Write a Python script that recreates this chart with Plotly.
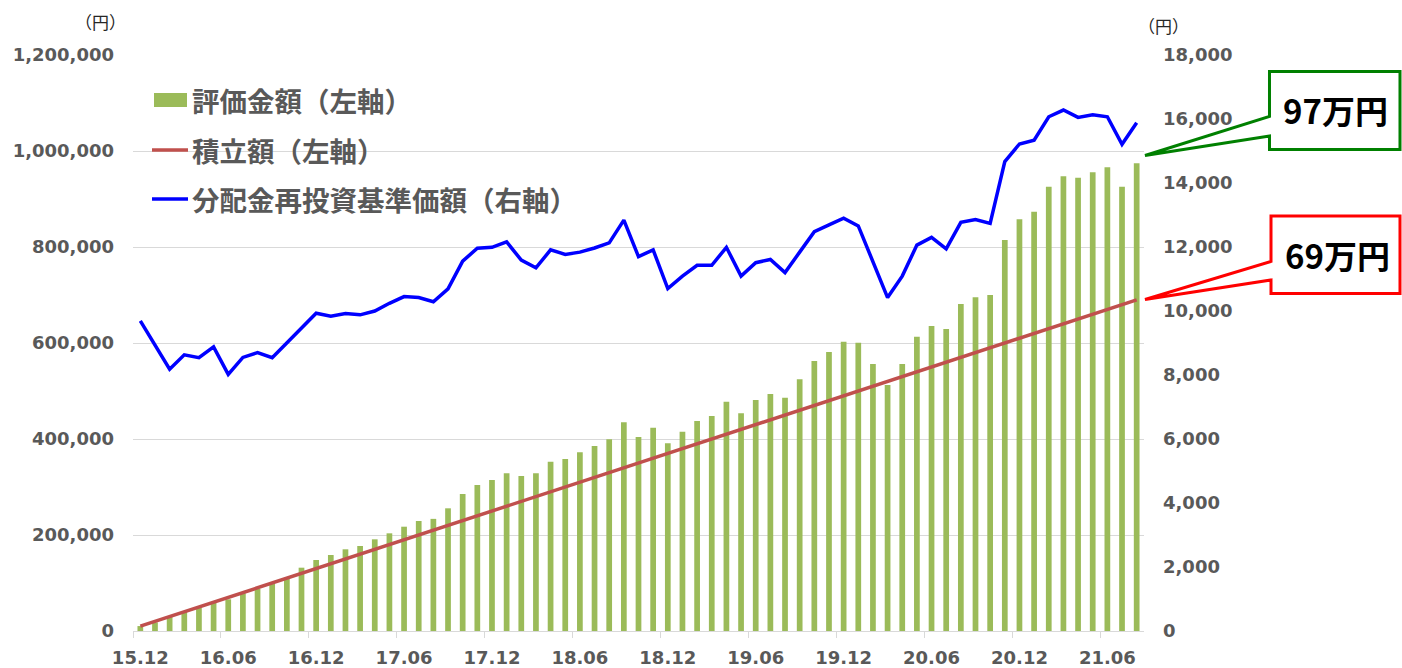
import plotly.graph_objects as go

# ---------------- data ----------------
months = [
    "15.12",
    "16.01", "16.02", "16.03", "16.04", "16.05", "16.06", "16.07", "16.08", "16.09", "16.10", "16.11", "16.12",
    "17.01", "17.02", "17.03", "17.04", "17.05", "17.06", "17.07", "17.08", "17.09", "17.10", "17.11", "17.12",
    "18.01", "18.02", "18.03", "18.04", "18.05", "18.06", "18.07", "18.08", "18.09", "18.10", "18.11", "18.12",
    "19.01", "19.02", "19.03", "19.04", "19.05", "19.06", "19.07", "19.08", "19.09", "19.10", "19.11", "19.12",
    "20.01", "20.02", "20.03", "20.04", "20.05", "20.06", "20.07", "20.08", "20.09", "20.10", "20.11", "20.12",
    "21.01", "21.02", "21.03", "21.04", "21.05", "21.06", "21.07", "21.08",
]

valuation = [  # 評価金額（左軸）
    10300, 18000, 29900, 40300, 48600, 59700, 66000, 78500, 87500, 99400, 111000, 131900, 147900,
    158300, 170200, 177100, 191000, 203500, 217300, 229200, 233600, 255600, 285400, 304200, 314600,
    328500, 322900, 328500, 352800, 358300, 372200, 385400, 399300, 434700, 404200, 423600, 391000,
    415300, 437500, 447900, 477800, 453500, 481300, 493800, 486000, 524400, 562500, 581300, 602700,
    600600, 556300, 512500, 556300, 613100, 635400, 629200, 681300, 695200, 700000, 814600, 857700,
    873600, 925700, 947200, 944400, 955500, 965900, 925700, 974300,
]

accumulated = [  # 積立額（左軸）
    10000, 20000, 30000, 40000, 50000, 60000, 70000, 80000, 90000, 100000, 110000, 120000, 130000,
    140000, 150000, 160000, 170000, 180000, 190000, 200000, 210000, 220000, 230000, 240000, 250000,
    260000, 270000, 280000, 290000, 300000, 310000, 320000, 330000, 340000, 350000, 360000, 370000,
    380000, 390000, 400000, 410000, 420000, 430000, 440000, 450000, 460000, 470000, 480000, 490000,
    500000, 510000, 520000, 530000, 540000, 550000, 560000, 570000, 580000, 590000, 600000, 610000,
    620000, 630000, 640000, 650000, 660000, 670000, 680000, 690000,
]

nav = [  # 分配金再投資基準価額（右軸）
    9690, 8940, 8180, 8630, 8540, 8880, 8020, 8550, 8700, 8540, 9000, 9470, 9930,
    9840, 9920, 9880, 10000, 10240, 10450, 10420, 10290, 10690, 11560, 11960, 11990,
    12160, 11590, 11350, 11910, 11770, 11840, 11970, 12130, 12840, 11700, 11910, 10700,
    11090, 11430, 11430, 11990, 11090, 11510, 11610, 11200, 11840, 12480, 12690, 12900,
    12660, 11540, 10420, 11090, 12060, 12300, 11940, 12770, 12860, 12740, 14670, 15220,
    15340, 16070, 16280, 16050, 16130, 16070, 15210, 15880,
]

tick_labels = ["15.12", "16.06", "16.12", "17.06", "17.12", "18.06",
               "18.12", "19.06", "19.12", "20.06", "20.12", "21.06"]

left_ticks = [0, 200000, 400000, 600000, 800000, 1000000, 1200000]
right_ticks = [0, 2000, 4000, 6000, 8000, 10000, 12000, 14000, 16000, 18000]

series_names = ["評価金額（左軸）", "積立額（左軸）", "分配金再投資基準価額（右軸）"]
callout_texts = ["97万円", "69万円"]

# ---------------- styling ----------------
W, H = 1402, 668
ML, MR, MT, MB = 133, 258, 55, 37
PW, PH = W - ML - MR, H - MT - MB

GREEN = "#9BBB59"
RED = "#C0504D"
BLUE = "#0000FF"
GRID = "#D9D9D9"
TXT = "#595959"
JP = "Noto Sans CJK JP, Noto Sans, sans-serif"
NUM = "DejaVu Sans, Verdana, sans-serif"


def px(x):
    return (x - ML) / PW


def py(y):
    return (H - MB - y) / PH


x_idx = list(range(len(months)))
tick_pos = [months.index(t) for t in tick_labels]

fig = go.Figure()
fig.add_trace(go.Bar(x=x_idx, y=valuation, name=series_names[0],
                     marker=dict(color=GREEN, line=dict(width=0)),
                     customdata=months, hovertemplate="%{customdata}: %{y:,}<extra></extra>"))
fig.add_trace(go.Scatter(x=x_idx, y=accumulated, name=series_names[1], mode="lines",
                         line=dict(color=RED, width=3.5),
                         customdata=months, hovertemplate="%{customdata}: %{y:,}<extra></extra>"))
fig.add_trace(go.Scatter(x=x_idx, y=nav, name=series_names[2], mode="lines", yaxis="y2",
                         line=dict(color=BLUE, width=3.5),
                         customdata=months, hovertemplate="%{customdata}: %{y:,}<extra></extra>"))

tickfont = dict(family=NUM, size=18, color=TXT, weight="bold")

fig.update_layout(
    width=W, height=H,
    margin=dict(l=ML, r=MR, t=MT, b=MB, pad=0, autoexpand=False),
    paper_bgcolor="white", plot_bgcolor="white",
    showlegend=False,
    bargap=0.61,
    xaxis=dict(
        range=[-0.5, len(months) - 0.5], automargin=False,
        tickmode="array", tickvals=tick_pos, ticktext=tick_labels,
        ticks="", tickfont=tickfont, ticklabelstandoff=10,
        showgrid=False, zeroline=False,
        showline=True, linecolor=GRID, linewidth=1,
        minor=dict(tickmode="array", tickvals=[p - 0.5 for p in tick_pos],
                   ticks="outside", ticklen=6, tickcolor=GRID, tickwidth=1, showgrid=False),
    ),
    yaxis=dict(
        range=[0, 1200000], tickmode="array", tickvals=left_ticks, automargin=False,
        tickformat=",d", tickfont=tickfont, ticks="", ticklabelstandoff=18,
        showgrid=True, gridcolor=GRID, gridwidth=1, zeroline=False, showline=False,
    ),
    yaxis2=dict(
        range=[0, 18000], tickmode="array", tickvals=right_ticks, automargin=False,
        tickformat=",d", tickfont=tickfont, ticks="", ticklabelstandoff=18,
        overlaying="y", side="right", showgrid=False, zeroline=False, showline=False,
    ),
)

shapes = []
annotations = []

# ---- manual legend ----
legend_rows = [100, 150, 199]
shapes.append(dict(type="rect", xref="paper", yref="paper",
                   x0=px(154), x1=px(187), y0=py(107), y1=py(93),
                   fillcolor=GREEN, line=dict(width=0)))
shapes.append(dict(type="line", xref="paper", yref="paper",
                   x0=px(152), x1=px(188), y0=py(legend_rows[1]), y1=py(legend_rows[1]),
                   line=dict(color=RED, width=3.5)))
shapes.append(dict(type="line", xref="paper", yref="paper",
                   x0=px(152), x1=px(188), y0=py(legend_rows[2]), y1=py(legend_rows[2]),
                   line=dict(color=BLUE, width=3.5)))
for name, row in zip(series_names, legend_rows):
    annotations.append(dict(xref="paper", yref="paper", x=px(190), y=py(row),
                            xanchor="left", yanchor="middle", showarrow=False,
                            text="<b>" + name + "</b>",
                            font=dict(family=JP, size=27.5, color=TXT)))

# ---- unit labels ----
annotations.append(dict(xref="paper", yref="paper", x=px(100), y=py(22),
                        xanchor="center", yanchor="middle", showarrow=False,
                        text="（円）", font=dict(family=JP, size=17, color="#262626")))
annotations.append(dict(xref="paper", yref="paper", x=px(1163), y=py(26),
                        xanchor="center", yanchor="middle", showarrow=False,
                        text="（円）", font=dict(family=JP, size=17, color="#262626")))


# ---- callouts ----
def callout(left, top, bottom, wtop, wbot, tip_x, tip_y, right, color):
    pts = [(left, top), (right, top), (right, bottom), (left, bottom),
           (left, wbot), (tip_x, tip_y), (left, wtop)]
    d = "M " + " L ".join(f"{px(a):.5f},{py(b):.5f}" for a, b in pts) + " Z"
    return dict(type="path", xref="paper", yref="paper", path=d,
                fillcolor="white", line=dict(color=color, width=3), layer="above")


tip_px = 1145
shapes.append(callout(1269.5, 71.5, 149.5, 116.5, 136, tip_px, 155.5, 1400, "#008000"))
shapes.append(callout(1271, 216, 293.5, 261.5, 280, tip_px, 299.5, 1400, "#FF0000"))
annotations.append(dict(xref="paper", yref="paper", x=px(1335), y=py(110.5),
                        xanchor="center", yanchor="middle", showarrow=False,
                        text="<b>" + callout_texts[0] + "</b>",
                        font=dict(family=JP, size=33, color="black")))
annotations.append(dict(xref="paper", yref="paper", x=px(1337), y=py(255),
                        xanchor="center", yanchor="middle", showarrow=False,
                        text="<b>" + callout_texts[1] + "</b>",
                        font=dict(family=JP, size=33, color="black")))

fig.update_layout(shapes=shapes, annotations=annotations)

fig.write_html("out.html", config={"displayModeBar": False},
               post_script="document.body.style.margin='0';document.body.style.overflow='hidden';")
